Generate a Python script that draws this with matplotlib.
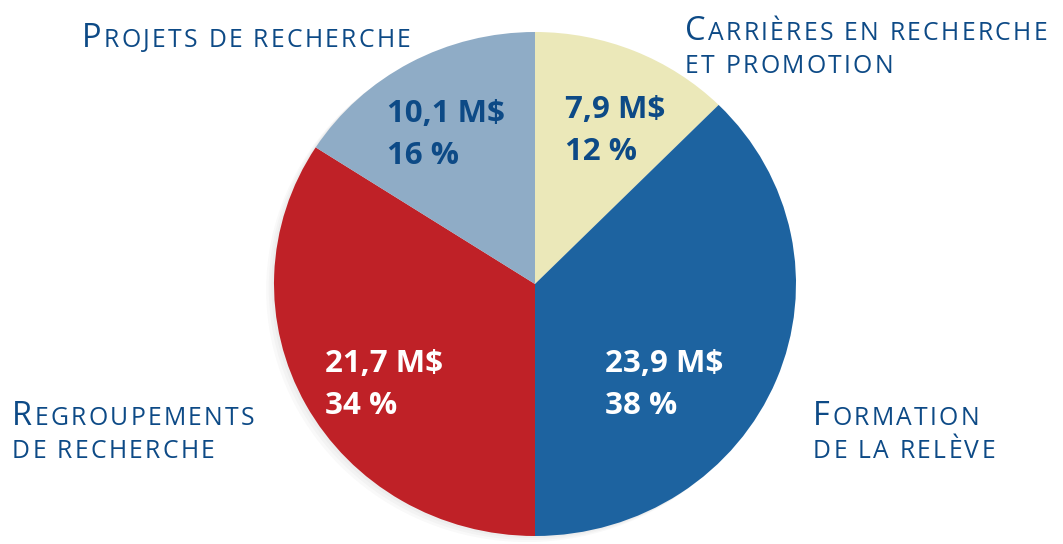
import matplotlib
matplotlib.use("Agg")
import matplotlib.pyplot as plt
from matplotlib.patches import Ellipse

# data
categories = ["Carrières en recherche\net promotion", "Formation\nde la relève",
              "Regroupements\nde recherche", "Projets de recherche"]
amounts = [7.9, 23.9, 21.7, 10.1]          # M$
percents = [12, 38, 34, 16]
slice_colors = ["#ebe8b9", "#1d63a0", "#bf2127", "#8facc6"]
value_colors = ["#0d4a86", "white", "white", "#0d4a86"]

navy = "#0d4a86"
W, H = 1063, 544

fig = plt.figure(figsize=(W / 100, H / 100), dpi=100)

# pie in its own axes, slightly squashed vertically like the original
cx, cy, rx, ry = 535, 284, 261, 252
pax = fig.add_axes([(cx - rx) / W, (H - cy - ry) / H, 2 * rx / W, 2 * ry / H])
for k in range(3):
    pax.add_patch(Ellipse((-0.01 * (k + 1), -0.008 * (k + 1)), 2, 2,
                          color="#666666", alpha=0.04, lw=0, clip_on=False))
pax.pie(amounts, colors=slice_colors, startangle=90, counterclock=False,
        radius=1, wedgeprops=dict(linewidth=0))
pax.set_aspect("auto")
pax.set_xlim(-1, 1)
pax.set_ylim(-1, 1)
pax.axis("off")

# text layer in pixel coordinates
ax = fig.add_axes([0, 0, 1, 1])
ax.set_xlim(0, W)
ax.set_ylim(H, 0)
ax.axis("off")
ax.patch.set_alpha(0)

# value labels inside the slices (left x, baseline of first line)
value_pos = [(565, 118), (605, 372), (325, 372), (387, 122)]
for (x, y), a, p, c in zip(value_pos, amounts, percents, value_colors):
    ax.text(x, y, ("%.1f M$" % a).replace(".", ","), color=c, fontsize=22.5,
            fontweight="bold", family="Open Sans", va="baseline", ha="left")
    ax.text(x, y + 42, "%d %%" % p, color=c, fontsize=22.5,
            fontweight="bold", family="Open Sans", va="baseline", ha="left")

fig.canvas.draw()
renderer = fig.canvas.get_renderer()
widths = {}


def advance(ch, size):
    # advance width of a character, measured as XchX - XX
    key = (ch, size)
    if key not in widths:
        t1 = ax.text(0, 0, "X" + ch + "X", fontsize=size, family="Open Sans")
        t2 = ax.text(0, 0, "XX", fontsize=size, family="Open Sans")
        widths[key] = (t1.get_window_extent(renderer).width
                       - t2.get_window_extent(renderer).width)
        t1.remove()
        t2.remove()
    return widths[key]


def spaced(x, y, text, size, track=2.3):
    for ch in text:
        if ch != " ":
            ax.text(x, y, ch, fontsize=size, color=navy, family="Open Sans",
                    va="baseline", ha="left")
        x += advance(ch, size) + track
    return x


# category labels (left x, baseline of first line)
label_pos = [(685, 40), (813, 425), (12, 425), (82, 47)]
big, small = 23.5, 17.8
for (x, y), lab in zip(label_pos, categories):
    lines = lab.upper().split("\n")
    xx = spaced(x, y, lines[0][0], big)
    spaced(xx, y, lines[0][1:], small)
    for i, ln in enumerate(lines[1:]):
        spaced(x, y + 33 * (i + 1), ln, small)

fig.savefig("out.png", dpi=100)
